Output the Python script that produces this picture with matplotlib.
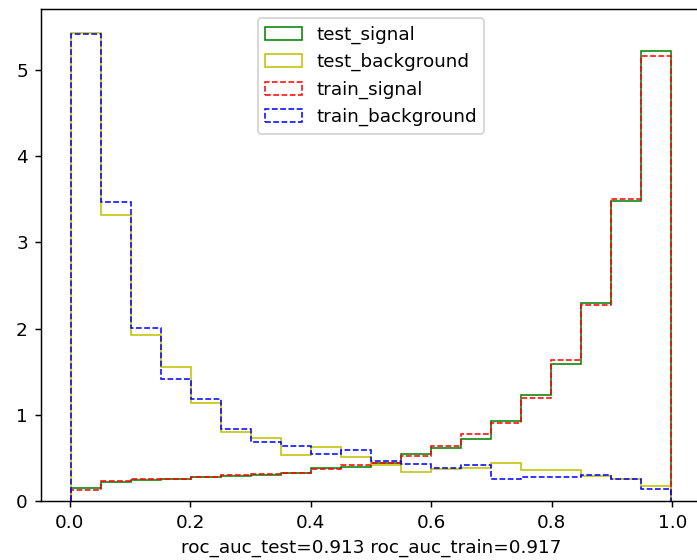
import numpy as np
import matplotlib
matplotlib.use("Agg")
import matplotlib.pyplot as plt

# bin edges of the classifier output histogram (20 bins)
edges = np.linspace(0.002, 0.998, 21)

test_signal = [0.147, 0.216, 0.243, 0.255, 0.274, 0.285, 0.30, 0.325, 0.378, 0.39,
               0.436, 0.544, 0.62, 0.718, 0.923, 1.228, 1.587, 2.297, 3.474, 5.223]
train_signal = [0.127, 0.235, 0.258, 0.258, 0.28, 0.30, 0.31, 0.328, 0.367, 0.417,
                0.44, 0.525, 0.637, 0.772, 0.91, 1.198, 1.633, 2.27, 3.497, 5.157]
test_background = [5.43, 3.32, 1.93, 1.555, 1.14, 0.80, 0.733, 0.533, 0.625, 0.506,
                   0.417, 0.34, 0.37, 0.386, 0.444, 0.362, 0.362, 0.293, 0.25, 0.175]
train_background = [5.41, 3.47, 2.007, 1.42, 1.185, 0.83, 0.687, 0.64, 0.55, 0.59,
                    0.463, 0.43, 0.386, 0.417, 0.255, 0.28, 0.28, 0.305, 0.25, 0.135]

xlabel = "roc_auc_test=0.913 roc_auc_train=0.917"

DPI = 132
fig = plt.figure(figsize=(697 / DPI, 560 / DPI), dpi=DPI)
ax = fig.add_axes([40.7 / 697, 59 / 560, (701 - 40.7) / 697, (501 - 9.3) / 560])

left = edges[:-1]
lw = 0.85
ax.hist(left, bins=edges, weights=test_signal, histtype='step', color='g',
        linewidth=lw, label='test_signal')
ax.hist(left, bins=edges, weights=test_background, histtype='step', color='y',
        linewidth=lw, label='test_background')
ax.hist(left, bins=edges, weights=train_signal, histtype='step', color='r',
        linewidth=lw, linestyle='--', label='train_signal')
ax.hist(left, bins=edges, weights=train_background, histtype='step', color='b',
        linewidth=lw, linestyle='--', label='train_background')

ax.set_xlabel(xlabel)
ax.legend(loc='upper center')

fig.savefig("out.png", dpi=DPI)
